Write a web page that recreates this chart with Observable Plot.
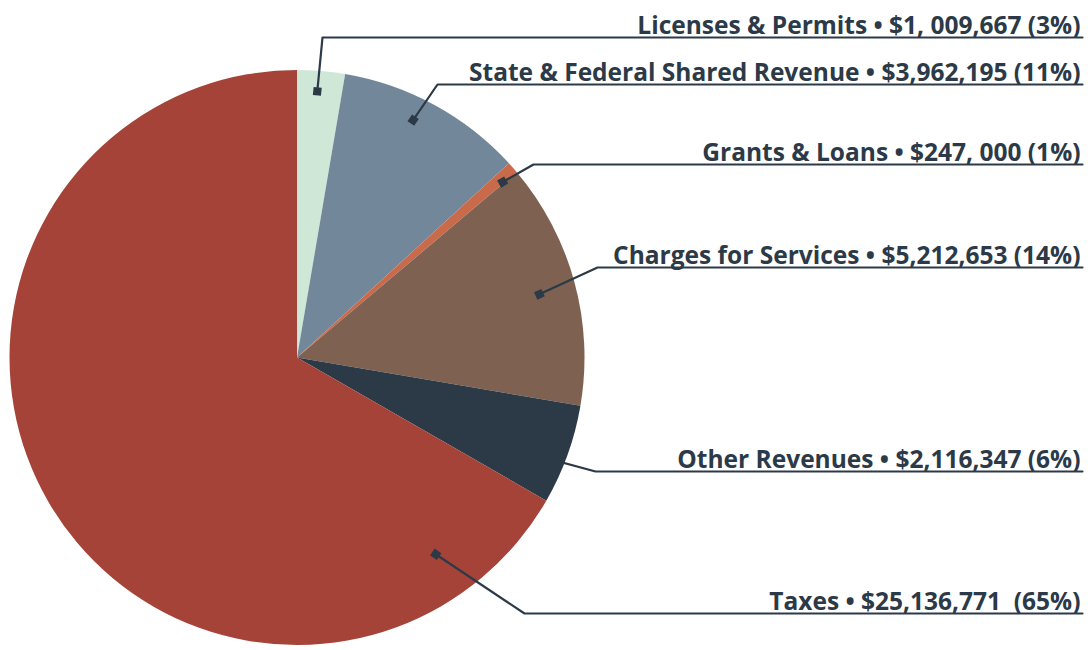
<!DOCTYPE html>
<html><head><meta charset="utf-8">
<script src="https://cdn.jsdelivr.net/npm/d3@7"></script>
<script src="https://cdn.jsdelivr.net/npm/@observablehq/plot@0.6"></script>
<style>body{margin:0;background:#fff}</style>
</head><body><div id="chart"></div>
<script>
// ---- data ----
const categories = ["Licenses & Permits", "State & Federal Shared Revenue", "Grants & Loans", "Charges for Services", "Other Revenues", "Taxes"];
const amounts = [1009667, 3962195, 247000, 5212653, 2116347, 25136771];
const amountLabels = ["$1, 009,667", "$3,962,195", "$247, 000", "$5,212,653", "$2,116,347", "$25,136,771\u00a0"];
const percentLabels = ["3%", "11%", "1%", "14%", "6%", "65%"];
const sliceColors = ["#cfe7d6", "#72879a", "#c96a4b", "#7e6150", "#2c3a47", "#a54338"];

// ---- layout (pixels) ----
const W = 1090, H = 650, CX = 297, CY = 357.5, R = 287.5;
const ink = "#2c3a48";
const labelRight = 1082;
const labelBaseline = [33, 80, 160, 263, 467, 609];
const underlineY = [37, 84, 164, 267, 471, 613];
const elbowX = [322, 437, 533, 597, 595, 524];
const markerAt = [[0.44, 0.93], [0.43, 0.92], [0.8, 0.94], [0.51, 0.87], [0.64, 0.85], [0.104, 0.835]]; // [fraction within slice, radius fraction]

const toU = px => (px - CX) / R;
const toV = py => (CY - py) / R;

const arcs = d3.pie().sort(null).value(d => d)(amounts);

const rows = categories.map((c, i) => {
  const a = arcs[i];
  const ang = a.startAngle + (a.endAngle - a.startAngle) * markerAt[i][0];
  const mr = markerAt[i][1];
  const mx = Math.sin(ang) * mr, my = Math.cos(ang) * mr; // units, y up
  const mpx = CX + mx * R, mpy = CY - my * R;
  const rot = Math.atan2(underlineY[i] - mpy, elbowX[i] - mpx) * 180 / Math.PI;
  return {i, label: `${c} • ${amountLabels[i]} (${percentLabels[i]})`, mx, my, rot};
});

const leaderPts = rows.flatMap(r => [
  {i: r.i, x: toU(labelRight), y: toV(underlineY[r.i])},
  {i: r.i, x: toU(elbowX[r.i]), y: toV(underlineY[r.i])},
  {i: r.i, x: r.mx, y: r.my}
]);

function pieMark(index, scales) {
  const x = scales.x, y = scales.y;
  const cx = x(0), cy = y(0), r = x(1) - x(0);
  const arc = d3.arc().innerRadius(0).outerRadius(r);
  const g = d3.create("svg:g").attr("transform", `translate(${cx},${cy})`);
  g.selectAll("path").data(arcs).join("path")
    .attr("d", arc).attr("fill", (d, i) => sliceColors[i]);
  return g.node();
}

const chart = Plot.plot({
  width: W, height: H, margin: 0,
  x: {domain: [toU(0), toU(W)], axis: null},
  y: {domain: [toV(H), toV(0)], axis: null},
  style: {background: "#fff"},
  marks: [
    pieMark,
    Plot.line(leaderPts, {x: "x", y: "y", z: "i", stroke: ink, strokeWidth: 2.2, curve: "linear"}),
    Plot.dot(rows, {x: "mx", y: "my", symbol: "square", r: 4.6, fill: ink, stroke: "none", rotate: "rot"}),
    Plot.text(rows, {
      x: toU(labelRight - 2), y: r => toV(labelBaseline[r.i]), text: "label",
      textAnchor: "end", lineAnchor: "bottom", fill: ink,
      fontSize: 24.5, fontWeight: 700, fontFamily: "'Open Sans', 'Noto Sans', sans-serif"
    })
  ]
});
document.getElementById("chart").append(chart);
</script>
</body></html>
